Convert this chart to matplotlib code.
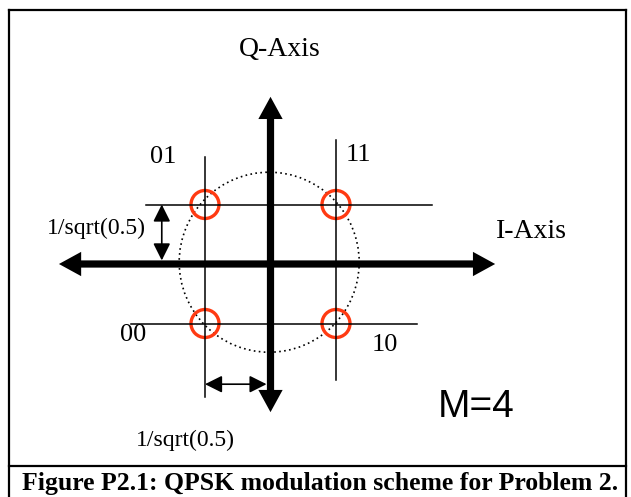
import matplotlib.pyplot as plt
from matplotlib.patches import FancyArrowPatch, ArrowStyle, Ellipse
from matplotlib.lines import Line2D

# constellation (I, Q) and bit labels
i_vals = [-1, 1, -1, 1]
q_vals = [1, 1, -1, -1]
bits = ["01", "11", "00", "10"]
label_px = [(163, 157), (358, 155), (133, 335), (385, 345)]

W, H = 631, 497
ox, oy = 270.5, 264        # pixel position of the origin
ux, uy = 65.5, 59.5        # pixels per unit

fig = plt.figure(figsize=(W / 100, H / 100), dpi=100)
ax = fig.add_axes([0, 0, 1, 1])
ax.set_xlim(-ox / ux, (W - ox) / ux)
ax.set_ylim(-(H - oy) / uy, oy / uy)
ax.axis("off")


def fx(x):
    return x / W


def fy(y):
    return 1 - y / H


serif = "Liberation Serif"

# frame around the figure and caption box
for xs, ys in [([9, 9], [10, H]), ([626, 626], [10, H]),
               ([9, 626], [10, 10]), ([9, 626], [466, 466])]:
    fig.add_artist(Line2D([fx(v) for v in xs], [fy(v) for v in ys],
                          color="black", lw=1.6))

# dotted circle through the constellation
r = 90
ax.add_patch(Ellipse((-0.02, 0.03), 2 * r / ux, 2 * r / uy, fill=False,
                     ls=(0, (1, 2)), lw=1.2, color="black"))

# thick I/Q axes with arrow heads
big = ArrowStyle("Simple", head_length=16, head_width=17.5, tail_width=5.2)
for tip in [(-3.23, 0), (3.43, 0), (0, 2.81), (0, -2.49)]:
    ax.add_patch(FancyArrowPatch((0, 0), tip, arrowstyle=big, mutation_scale=1,
                                 color="black", lw=0, shrinkA=0, shrinkB=0))

# thin guide lines through each point
vext = {1: (-1.95, 2.08), -1: (-2.24, 1.80)}
hext = {1: (-1.90, 2.47), -1: (-2.13, 2.24)}
for v in [-1, 1]:
    ax.plot([v, v], vext[v], color="black", lw=1.1)
    ax.plot(hext[v], [v, v], color="black", lw=1.1)

# constellation points
for i, q in zip(i_vals, q_vals):
    ax.add_patch(Ellipse((i, q), 28 / ux, 28 / uy, fill=False,
                         color="#ff3a12", lw=2.4))

for b, (x, y) in zip(bits, label_px):
    fig.text(fx(x), fy(y), b, fontsize=19, family=serif, ha="center", va="center")

# dimension arrows
dim = dict(arrowstyle="<|-|>,head_length=0.4,head_width=0.2", lw=1.2,
           color="black", mutation_scale=26, shrinkA=0, shrinkB=0)
ax.annotate("", xy=(-1.66, 1), xytext=(-1.66, 0.06), arrowprops=dim)
ax.annotate("", xy=(-1, -2.02), xytext=(-0.06, -2.02), arrowprops=dim)

fig.text(fx(280), fy(50), "Q-Axis", fontsize=20, family=serif, ha="center", va="center")
fig.text(fx(531), fy(232), "I-Axis", fontsize=20, family=serif, ha="center", va="center")
fig.text(fx(96), fy(228), "1/sqrt(0.5)", fontsize=17, family=serif, ha="center", va="center")
fig.text(fx(185), fy(440), "1/sqrt(0.5)", fontsize=17, family=serif, ha="center", va="center")
fig.text(fx(476), fy(407), "M=4", fontsize=28, family="Liberation Sans", ha="center", va="center")
fig.text(fx(22), fy(490), "Figure P2.1: QPSK modulation scheme for Problem 2.",
         fontsize=18.5, family=serif, weight="bold", ha="left", va="baseline")

fig.savefig("out.png", dpi=100)
